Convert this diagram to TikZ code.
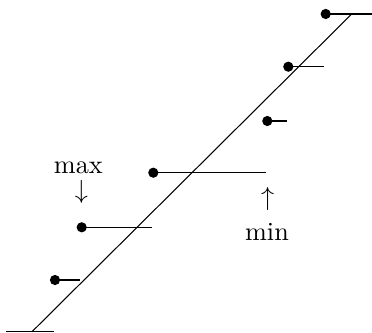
\documentclass[tikz,border=0pt]{standalone}
\begin{document}
\begin{tikzpicture}[x=0.382pt,y=-0.382pt,
  dotmark/.style={circle,fill=black,inner sep=0pt,minimum size=3.9pt},
  seg/.style={line width=0.4pt},
  lbl/.style={inner sep=0pt}]
\useasboundingbox (0,0) rectangle (372,332);
% diagonal
\coordinate (d0) at (32,331.7);
\coordinate (d1) at (351.7,14);
\draw[seg] (d0) -- (d1);
% bottom segment (no dot)
\coordinate (b0) at (6,331.7);
\coordinate (b1) at (54,331.7);
\draw[seg] (b0) -- (b1);
% dots with horizontal segments
\node[dotmark] (p1) at (55,280) {};
\coordinate (e1) at (80,280);
\node[dotmark] (p2) at (81.7,227.3) {};
\coordinate (e2) at (151.7,227.3);
\node[dotmark] (p3) at (153.3,172.7) {};
\coordinate (e3) at (266,172.7);
\node[dotmark] (p4) at (267.3,121) {};
\coordinate (e4) at (287.3,121);
\node[dotmark] (p5) at (288.3,66.7) {};
\coordinate (e5) at (324.3,66.7);
\node[dotmark] (p6) at (325.7,14) {};
\coordinate (e6) at (372,14);
\foreach \i in {1,...,6} \draw[seg] (p\i.center) -- (e\i);
% labels
\node[lbl] (mx) at (78.3,167.5) {max};
\node[lbl] (mxa) at (81.5,191.7) {$\downarrow$};
\node[lbl] (mna) at (267.7,199) {$\uparrow$};
\node[lbl] (mn) at (267,232) {min};
\end{tikzpicture}
\end{document}
